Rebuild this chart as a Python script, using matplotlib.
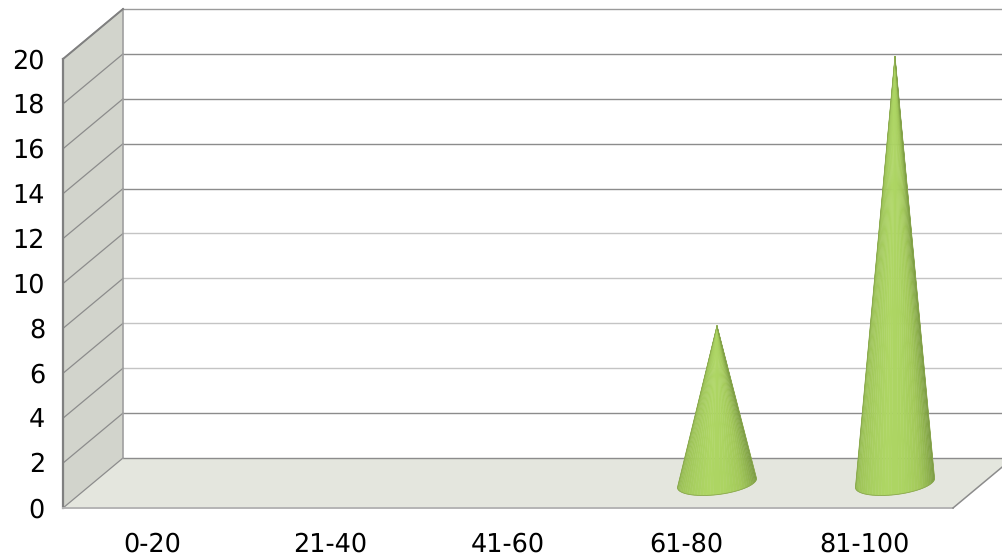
import numpy as np
import matplotlib
matplotlib.use("Agg")
import matplotlib.pyplot as plt
from matplotlib.colors import LinearSegmentedColormap
from matplotlib.patches import Polygon
from matplotlib.transforms import Affine2D

categories = ["0-20", "21-40", "41-60", "61-80", "81-100"]
values = [0, 0, 0, 7, 19]
y_ticks = [0, 2, 4, 6, 8, 10, 12, 14, 16, 18, 20]
grid_colors = ["#8c8c8c", "#8c8c8c", "#c4c4c4", "#c4c4c4", "#c4c4c4", "#c4c4c4",
               "#8c8c8c", "#8c8c8c", "#8c8c8c", "#8c8c8c", "#9a9a9a"]

W, H = 1003, 557
DEPTH_X, DEPTH_Y = 60, 50  # pixels between the back wall and the front edge

plt.rcParams["font.family"] = "DejaVu Sans"
plt.rcParams["text.hinting"] = "none"
fig = plt.figure(figsize=(W / 100, H / 100), dpi=100, facecolor="white")
ax = fig.add_axes([123 / W, (H - 458) / H, 890 / W, 449 / H])
ax.set_xlim(0, 5)
ax.set_ylim(0, 20)
ax.axis("off")

# oblique projection: the same data coordinates, slid towards the viewer
back = ax.transData
front = back + Affine2D().translate(-DEPTH_X, -DEPTH_Y)
middle = back + Affine2D().translate(-DEPTH_X / 2 + 1, -DEPTH_Y / 2)


def to_back(trans, x, y):
    # express a point of the given plane in back-wall data coordinates
    return back.inverted().transform(trans.transform((x, y)))


floor = [to_back(back, 0, 0), to_back(back, 5, 0), to_back(front, 5, 0), to_back(front, 0, 0)]
wall = [to_back(back, 0, 0), to_back(back, 0, 20), to_back(front, 0, 20), to_back(front, 0, 0)]
ax.add_patch(Polygon(floor, fc="#e4e6de", ec="none", clip_on=False, zorder=1))
ax.add_patch(Polygon(wall, fc="#d2d4cc", ec="none", clip_on=False, zorder=1))

for tick, col in zip(y_ticks, grid_colors):
    ax.plot([0, 5], [tick, tick], color=col, lw=1.0, clip_on=False, zorder=2)
    pts = np.array([to_back(front, 0, tick), to_back(back, 0, tick)])
    ax.plot(pts[:, 0], pts[:, 1], color="#8c8c8c", lw=0.9, clip_on=False, zorder=2)
    ax.text(45 / W, 0, str(tick), fontsize=18.4, ha="right", va="center", color="black",
            transform=fig.transFigure + Affine2D().translate(0, H - (508 - 22.45 * tick) - 2))

ax.plot([0, 0], [0, 20], color="#a0a0a0", lw=1.2, clip_on=False, zorder=2)
ax.plot([0, 0], [0, 20], color="#808080", lw=1.6, transform=front, clip_on=False, zorder=3)
ax.plot([0, 5], [0, 0], color="#b4b4b4", lw=1.4, transform=front, clip_on=False, zorder=3)
edge = np.array([to_back(front, 5, 0), to_back(back, 5, 0)])
ax.plot(edge[:, 0], edge[:, 1], color="#8c8c8c", lw=1.1, clip_on=False, zorder=3)
top_edge = np.array([to_back(front, 0, 20), to_back(back, 0, 20)])
ax.plot(top_edge[:, 0], top_edge[:, 1], color="#808080", lw=1.4, clip_on=False, zorder=3)

for i, name in enumerate(categories):
    ax.text(i + 0.5, 0, name, fontsize=18.4, ha="center", va="center", color="black",
            transform=front + Affine2D().translate(0, -36))

# cone surface shading, left to right across the visible half
shade = LinearSegmentedColormap.from_list(
    "cone", ["#8fb44f", "#9ec458", "#a8cf60", "#aed664", "#acd462", "#a3c95a", "#8aad4b", "#76953e"])
half_w, half_h, tilt = 0.222, 0.52, 0.2
n_facets = 36

for i, val in enumerate(values):
    if val == 0:
        continue
    cx = i + 0.5
    angles = np.linspace(np.pi, 2 * np.pi, n_facets + 1)
    xs = cx + half_w * np.cos(angles)
    ys = tilt * np.cos(angles) + half_h * np.sin(angles)
    for k in range(n_facets):
        tri = [to_back(middle, cx, val), to_back(middle, xs[k], ys[k]), to_back(middle, xs[k + 1], ys[k + 1])]
        col = shade((k + 0.5) / n_facets)
        ax.add_patch(Polygon(tri, fc=col, ec=col, lw=0.3, clip_on=False, zorder=4))
    rim = np.array([to_back(middle, a, b) for a, b in zip(xs, ys)])
    tip = to_back(middle, cx, val)
    outline = np.vstack([tip, rim, tip])
    ax.plot(outline[:, 0], outline[:, 1], color="#8aa84e", lw=0.6, clip_on=False, zorder=5)

fig.savefig("out.png", dpi=100, facecolor="white")
